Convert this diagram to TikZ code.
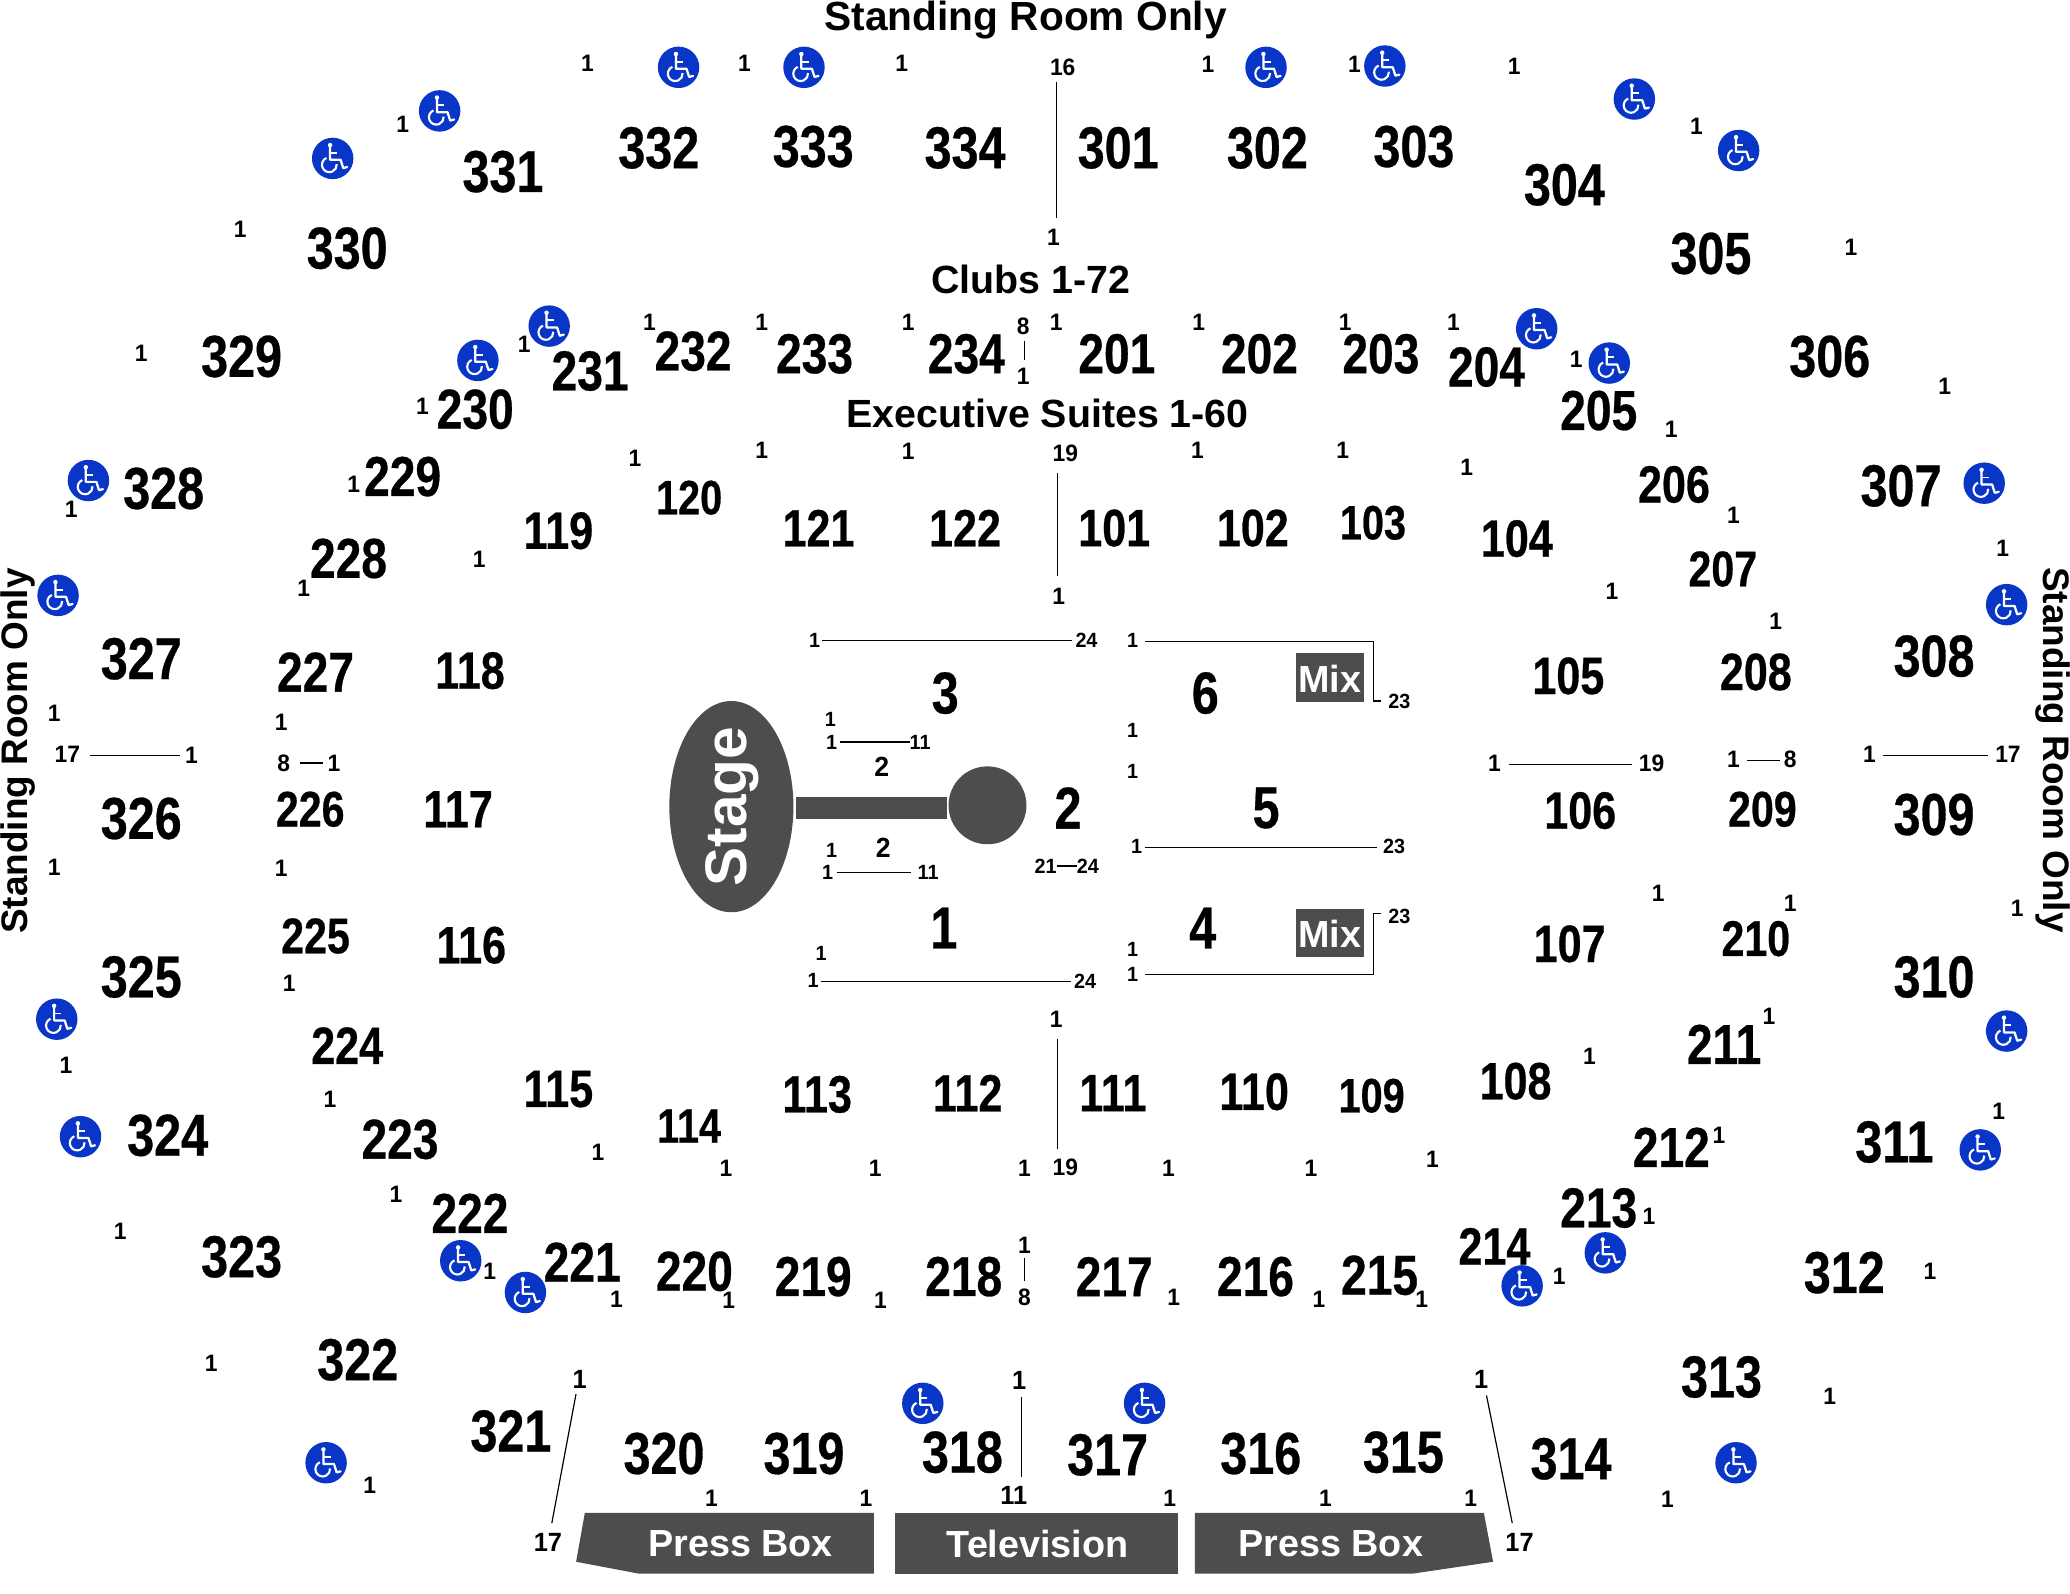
\documentclass[tikz,border=0pt]{standalone}
\usepackage{fontspec}
\usetikzlibrary{shapes.geometric}
\setmainfont{Liberation Sans}
\newfontfamily\condf{Liberation Sans}[FakeStretch=0.82,BoldFeatures={FakeStretch=0.82,FakeBold=0.5}]
\newfontfamily\seatf{Liberation Sans}[FakeStretch=0.96]
\definecolor{darkgrey}{HTML}{4D4D4D}
\definecolor{adablue}{HTML}{0A36C8}
\newcommand{\fsz}[1]{\fontsize{#1}{#1}\selectfont}
\tikzset{
  txt/.style={inner sep=0pt,outer sep=0pt,text=black,anchor=center},
  secA/.style={txt,font=\condf\bfseries\fsz{22.4}},
  secB/.style={txt,font=\condf\bfseries\fsz{21.3}},
  secC/.style={txt,font=\condf\bfseries\fsz{19.9}},
  secE/.style={txt,font=\condf\bfseries\fsz{19}},
  secD/.style={txt,font=\condf\bfseries\fsz{18.3}},
  seat/.style={txt,font=\seatf\bfseries\fsz{9}},
  seatL/.style={txt,font=\seatf\bfseries\fsz{10}},
  seatS/.style={txt,font=\seatf\bfseries\fsz{7.8}},
  seatM/.style={txt,font=\seatf\bfseries\fsz{10.5}},
  head/.style={txt,font=\bfseries\fsz{15.4}},
  headB/.style={txt,font=\bfseries\fsz{14.9}},
  headS/.style={txt,font=\bfseries\fsz{14}},
  block/.style={txt,text=white,font=\bfseries\fsz{14.3}},
  conn/.style={draw=black,line width=0.45pt},
  wchair/.pic={
    \fill[adablue] (0,0) circle (15.7);
    \fill[white] (-2,-10.1) circle (1.7);
    \draw[white,line width=0.85pt,line cap=round,line join=round] (-2,-8.6) -- (-2,1) -- (6,1) -- (8,7.3) -- (11,6.5);
    \draw[white,line width=0.7pt] (-2,-4.3) -- (3.5,-4.3);
    \draw[white,line width=0.8pt] (-4.7,-0.35) arc[start angle=-113,end angle=-365,x radius=5.6,y radius=5.6];
  }
}
\begin{document}
\begin{tikzpicture}[x=0.5pt,y=-0.5pt]
\useasboundingbox (0,0) rectangle (1568,1206.7);
% stage
\node[ellipse,fill=darkgrey,inner sep=0pt,minimum width=47pt,minimum height=80pt] (stage) at (554,611) {};
\node[txt,text=white,font=\bfseries\fsz{22.2},rotate=90] (stagelabel) at (555,611) {Stage};
\node[rectangle,fill=darkgrey,inner sep=0pt,minimum width=57pt,minimum height=8.5pt] (runway) at (660,612) {};
\node[circle,fill=darkgrey,inner sep=0pt,minimum size=29.5pt] (pod) at (748,610) {};
% mix
\node[rectangle,fill=darkgrey,inner sep=0pt,minimum width=25.8pt,minimum height=18.5pt] (mixa) at (1007.3,513.5) {};
\node[block] (mixat) at (1007.3,514) {Mix};
\node[rectangle,fill=darkgrey,inner sep=0pt,minimum width=25.8pt,minimum height=18.2pt] (mixb) at (1007.3,707) {};
\node[block] (mixbt) at (1007.3,707) {Mix};
% press boxes
\fill[darkgrey] (443,1146) -- (662,1146) -- (662,1192) -- (484,1192) -- (436.4,1183) -- cycle;
\fill[darkgrey] (678,1146) -- (892.5,1146) -- (892.5,1192) -- (678,1192) -- cycle;
\fill[darkgrey] (905,1146) -- (1124,1146) -- (1131,1183) -- (1070,1192) -- (905,1192) -- cycle;
\node[block] (pb1) at (561,1169.5) {Press Box};
\node[block] (tv) at (786,1169.5) {Television};
\node[block] (pb2) at (1008,1169.5) {Press Box};
% headings
\node[head] (h1) at (777,15) {Standing Room Only};
\node[headB] (h2) at (781,212) {Clubs 1-72};
\node[headB] (h3) at (793.5,313) {Executive Suites 1-60};
\node[headS,rotate=90] (h4) at (14,569) {Standing Room Only};
\node[headS,rotate=-90] (h5) at (1555,568) {Standing Room Only};
% sections
\foreach \x/\y/\t [count=\i] in {
 381/130/331,499/112/332,616/111/333,731/112/334,847/112/301,960/112/302,1071/111/303,1185/140/304,
 1296/192/305,263/188/330,183/270/329,1386/270/306,124/370/328,1440/368/307,107/499/327,1465/497/308,
 107/620/326,1465/617/309,107/740/325,1465/740/310,127/860/324,1435/865/311,183/952/323,1397/964/312,
 271/1030/322,1304/1043/313,387/1084/321,503/1101/320,609/1101/319,729/1100/318,839/1102/317,955/1101/316,
 1063/1100/315,1190/1105/314,716/525/3,913/525/6,809/612/2,959/612/5,715/703/1,911/703/4}
  \node[secA] (a\i) at (\x,\y) {\t};
\foreach \x/\y/\t [count=\i] in {
 447/281/231,525/266/232,617/268/233,732/268/234,846/268/201,954/268/202,1046/268/203,1126/278/204,
 1211/311/205,360/310/230,305/361/229,264/423/228,239/509/227,1306/791/211,303/863/223,1266/869/212,
 356/919/222,1211/915/213,441/956/221,526/963/220,1045/966/215,616/967/219,951/967/216,730/967/218,844/967/217}
  \node[secB] (b\i) at (\x,\y) {\t};
\foreach \x/\y/\t [count=\i] in {
 1268/367/206,1330/509/208,1132/944/214,263/792/224,
 423/402/119,620/400/121,731/400/122,844/400/101,949/400/102,1149/408/104,356/508/118,1188/512/105,
 347/613/117,1197/614/106,357/716/116,1189/715/107,423/825/115,619/829/113,733/828/112,843/828/111,
 950/827/110,1148/819/108}
  \node[secC] (c\i) at (\x,\y) {\t};
\foreach \x/\y/\t [count=\i] in {
 235/613/226,1335/613/209,239/709/225,1330/711/210,1305/431/207}
  \node[secE] (e\i) at (\x,\y) {\t};
\foreach \x/\y/\t [count=\i] in {
 522/377/120,1040/396/103,522/853/114,1039/830/109}
  \node[secD] (d\i) at (\x,\y) {\t};
% seat numbers, outer
\foreach \x/\y/\t [count=\i] in {
 445/48/1,564/48/1,683/48/1,805/51/16,915/49/1,1026/49/1,1147/50/1,1285/96/1,305/94/1,182/174/1,798/180/1,
 1402/187/1,107/268/1,1473/293/1,492/244/1,577/244/1,688/244/1,775/247/8,775/285/1,800/244/1,908/244/1,
 1019/244/1,1101/244/1,397/261/1,1194/272/1,320/308/1,1266/325/1,807/343/19,481/347/1,577/341/1,688/342/1,
 907/341/1,1017/341/1,1111/354/1,268/367/1,54/386/1,1313/390/1,363/424/1,1517/415/1,230/446/1,802/452/1,
 1221/448/1,1345/471/1,41/540/1,213/547/1,51/571/17,145/572/1,215/578/8,253/578/1,1132/578/1,1251/578/19,
 1313/575/1,1356/575/8,1416/571/1,1521/571/17,41/657/1,213/658/1,1256/677/1,1356/684/1,1528/688/1,219/745/1,
 800/772/1,50/807/1,1340/770/1,1204/800/1,250/833/1,1514/842/1,1302/860/1,453/873/1,550/885/1,663/885/1,
 776/885/1,807/884/19,885/885/1,993/885/1,1085/878/1,300/905/1,91/933/1,1249/921/1,776/943/1,776/983/8,
 371/963/1,1181/967/1,467/984/1,552/985/1,667/985/1,889/983/1,999/984/1,1077/984/1,1462/963/1,160/1033/1,
 1386/1058/1,280/1125/1,539/1135/1,656/1135/1,886/1135/1,
 1004/1135/1,1114/1135/1,1263/1136/1}
  \node[seat] (r\i) at (\x,\y) {\t};
\foreach \x/\y/\t [count=\i] in {
 439/1045/1,772/1046/1,1122/1045/1,768/1133/11,415/1168/17,1151/1168/17}
  \node[seatL] (q\i) at (\x,\y) {\t};
% seat numbers, floor
\foreach \x/\y/\t [count=\i] in {
 617/485/1,823/485/24,858/485/1,1060/531/23,629/545/1,630/562/1,697/562/11,858/553/1,858/584/1,
 861/641/1,1056/641/23,630/644/1,627/661/1,703/661/11,792/656/21,824/656/24,1060/694/23,622/722/1,
 616/743/1,822/743/24,858/719/1,858/738/1}
  \node[seatS] (f\i) at (\x,\y) {\t};
\node[seatM] (fa) at (668,581) {2};
\node[seatM] (fb) at (669,642) {2};
% straight connectors
\foreach \ax/\ay/\bx/\by [count=\i] in {
 800/62/800/165,776/258/776/273,801/358/801/436,801/787/801/870,776/953/776/970,773.5/1058/773.5/1118.7,
 436.3/1056/418/1153.7,1126/1057/1145.5/1153.7,68/572/136/572,227/578/245/578,1143/579/1236/579,
 1323/576/1348/576,1426/572/1506/572,623/485/812/485,636/562/689/562,634/661/690/661,801/656/816/656,
 867/642/1043/642,622/743.4/811.4/743.4}{
  \coordinate (la\i) at (\ax,\ay);
  \coordinate (lb\i) at (\bx,\by);
  \draw[conn] (la\i) -- (lb\i);
}
% bracket connectors
\coordinate (ka) at (867,486);
\coordinate (kb) at (1040.6,486);
\coordinate (kc) at (1040.6,531);
\coordinate (kd) at (1046,531);
\draw[conn] (ka) -- (kb) -- (kc) -- (kd);
\coordinate (ma) at (867,738);
\coordinate (mb) at (1040.6,738);
\coordinate (mc) at (1040.6,692);
\coordinate (md) at (1046,692);
\draw[conn] (ma) -- (mb) -- (mc) -- (md);
% accessibility icons
\foreach \x/\y in {
 514/51,609/51,959/51,1049/50,333/84,252/120,1238/75,1317/114,416/247,362/273,1164/249,1219/275,
 67/364,1503/366,44/451,1520/458,43/772,1520/781,61/861,1500/871,349/955,398/979,1216/949,1153/974,
 699/1063,867/1063,247/1108,1315/1108}
  \pic at (\x,\y) {wchair};
\end{tikzpicture}
\end{document}
